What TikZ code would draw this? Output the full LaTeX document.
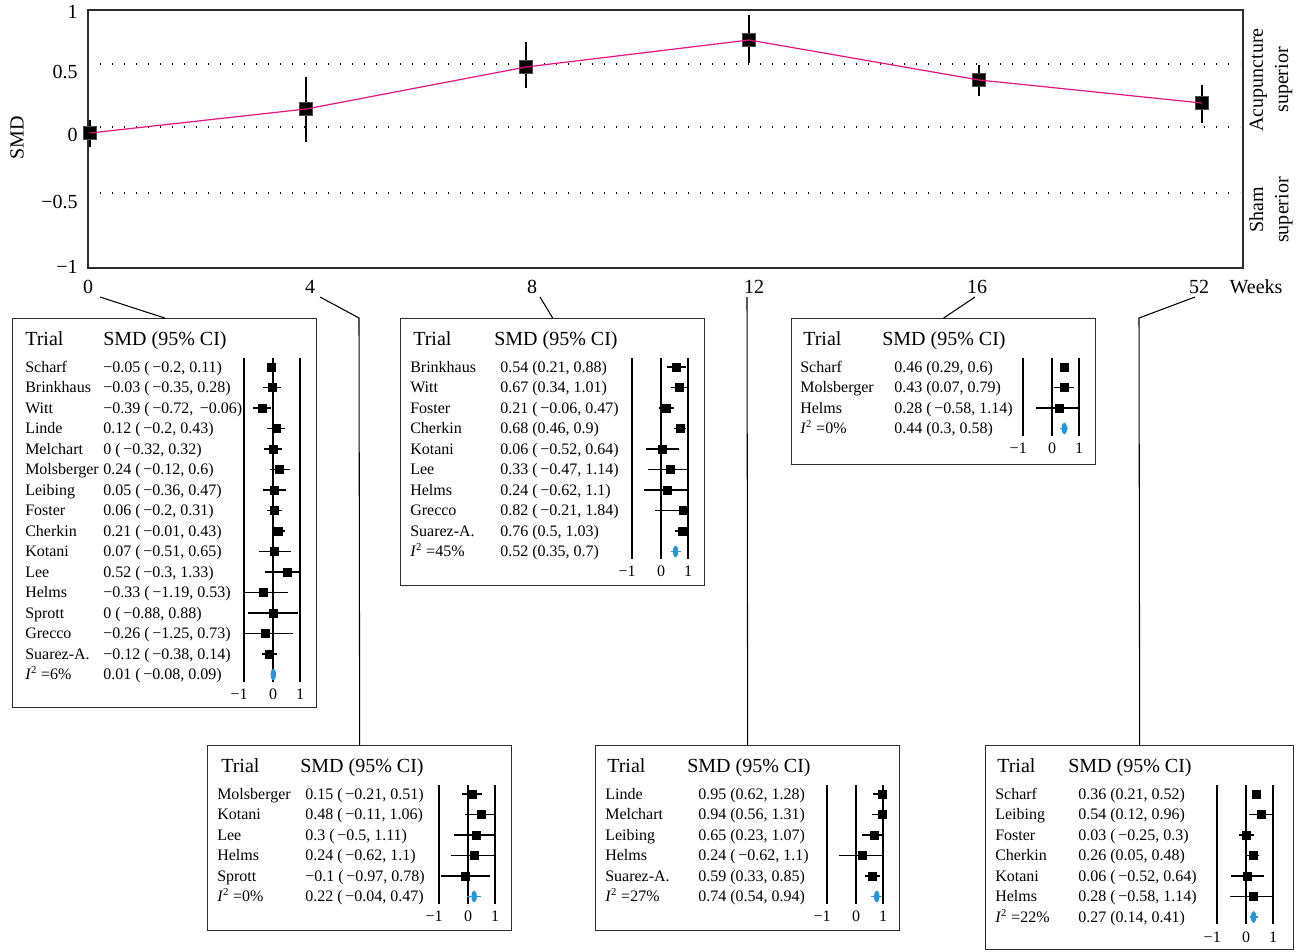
\documentclass[tikz,border=0pt]{standalone}
\usepackage{fontspec}
\setmainfont{Liberation Serif}
\definecolor{pinkline}{RGB}{230,20,130}
\definecolor{sumblue}{RGB}{35,150,220}
\definecolor{framecol}{RGB}{45,45,45}
\newcommand\frow[6]{%
  \pgfmathsetmacro\ry{49+20.5*#1}%
  \pgfmathsetmacro\xl{261+28*max(-1,#5)}%
  \pgfmathsetmacro\xh{261+28*min(1,#6)}%
  \pgfmathsetmacro\xe{261+28*(#4)}%
  \node[rowtxt] (\bid-n#1) at (\nx,\ry+5) {#2};
  \node[rowtxt] (\bid-v#1) at (\vx,\ry+5) {#3};
  \draw[ebar] (\xl,\ry) -- (\xh,\ry);
  \fill (\xe-4.5,\ry-4.5) rectangle (\xe+4.5,\ry+4.5);
}
\newcommand\fsum[6]{%
  \pgfmathsetmacro\ry{49+20.5*#1}%
  \pgfmathsetmacro\xl{261+28*max(-1,#5)}%
  \pgfmathsetmacro\xh{261+28*min(1,#6)}%
  \pgfmathsetmacro\xe{261+28*(#4)}%
  \node[rowtxt] (\bid-n#1) at (\nx,\ry+5) {\textit{I}\textsuperscript{2} =#2};
  \node[rowtxt] (\bid-v#1) at (\vx,\ry+5) {#3};
  \draw[sumbar] (\xl,\ry) -- (\xh,\ry);
  \fill[sumblue] (\xe,\ry) ellipse [x radius=2pt, y radius=4.5pt];
}
\newcommand\fhead[4]{% id-width-height-smdx
  \node[fboxnode, minimum width={#1*0.75pt}, minimum height={#2*0.75pt}] (\bid) at (0,0) {};
  \node[hdr] (\bid-trial) at (#4,27) {Trial};
  \node[hdr] (\bid-smd) at (#3,27) {SMD (95\% CI)};
}
\newcommand\faxis[1]{%
  \pgfmathsetmacro\ly{49+20.5*#1}%
  \foreach \xx in {232,261,288} {\draw[vline] (\xx,40) -- (\xx,\ly+7);}
  \node[axtxt, anchor=base east] (\bid-am) at (236,\ly+25) {−1};
  \node[axtxt, anchor=base] (\bid-az) at (261,\ly+25) {0};
  \node[axtxt, anchor=base] (\bid-ap) at (288,\ly+25) {1};
}
\begin{document}
\begin{tikzpicture}[x=0.75pt,y=-0.75pt,
  lbl/.style={font=\fontsize{15}{19}\selectfont, inner sep=0pt},
  hdr/.style={font=\fontsize{15}{18}\selectfont, inner sep=0pt, anchor=base west},
  rowtxt/.style={font=\fontsize{12}{14}\selectfont, inner sep=0pt, anchor=base west},
  axtxt/.style={font=\fontsize{12}{14}\selectfont, inner sep=0pt},
  fboxnode/.style={draw=framecol, line width=1pt, anchor=north west, inner sep=0pt, fill=none},
  vline/.style={line width=1pt, black},
  ebar/.style={line width=0.8pt, black},
  sumbar/.style={line width=1pt, sumblue},
  dotline/.style={line width=0.9pt, dash pattern=on 0.9pt off 8.1pt},
  marker/.style={fill=black, draw=black!70, line width=0.4pt, minimum size=9.75pt, inner sep=0pt},
  errv/.style={line width=1.1pt, black},
  conn/.style={line width=0.8pt, black}]
\useasboundingbox (0,0) rectangle (1301,951);
\fill[white] (0,0) rectangle (1301,951);
% ---------- top chart ----------
\foreach \yy in {64,127,193} {\draw[dotline] (100,\yy) -- (1240,\yy);}
\draw[framecol, line width=1.1pt] (88,10) rectangle (1243,268);
\node[lbl, anchor=east] (y1) at (78,12) {1};
\node[lbl, anchor=east] (y05) at (78,72) {0.5};
\node[lbl, anchor=east] (y0) at (78,135) {0};
\node[lbl, anchor=east] (ym05) at (78,202) {−0.5};
\node[lbl, anchor=east] (ym1) at (78,267) {−1};
\node[lbl, rotate=90] (ylab) at (17,138) {SMD};
\node[lbl, rotate=90, align=center] (acu) at (1271,80) {Acupuncture\\superior};
\node[lbl, rotate=90, align=center] (sham) at (1271,210) {Sham\\superior};
% error bars
\draw[errv] (90,120) -- (90,147);
\draw[errv] (306,77) -- (306,142);
\draw[errv] (526,42) -- (526,88);
\draw[errv] (749,15) -- (749,63);
\draw[errv] (979,65) -- (979,96);
\draw[errv] (1202,85) -- (1202,123);
% markers
\node[marker] (m0) at (90,133) {};
\node[marker] (m4) at (306,109) {};
\node[marker] (m8) at (526,67) {};
\node[marker] (m12) at (749,40) {};
\node[marker] (m16) at (979,80) {};
\node[marker] (m52) at (1202,103) {};
\draw[pinkline, line width=0.9pt] (m0.center) -- (m4.center) -- (m8.center) -- (m12.center) -- (m16.center) -- (m52.center);
% week labels
\node[lbl] (t0) at (88,287) {0};
\node[lbl] (t4) at (310,287) {4};
\node[lbl] (t8) at (532,287) {8};
\node[lbl] (t12) at (754,287) {12};
\node[lbl] (t16) at (977,287) {16};
\node[lbl] (t52) at (1199,287) {52};
\node[lbl] (weeks) at (1256,287) {Weeks};
% ---------- box week 0 ----------
\begin{scope}[shift={(12,318)}]
\def\bid{b0}\def\nx{13}\def\vx{91}
\fhead{304}{389}{91}{13}
\faxis{15}
\frow{0}{Scharf}{−0.05 (\,−0.2, 0.11)}{-0.05}{-0.2}{0.11}
\frow{1}{Brinkhaus}{−0.03 (\,−0.35, 0.28)}{-0.03}{-0.35}{0.28}
\frow{2}{Witt}{−0.39 (\,−0.72, \,−0.06)}{-0.39}{-0.72}{-0.06}
\frow{3}{Linde}{0.12 (\,−0.2, 0.43)}{0.12}{-0.2}{0.43}
\frow{4}{Melchart}{0 (\,−0.32, 0.32)}{0}{-0.32}{0.32}
\frow{5}{Molsberger}{0.24 (\,−0.12, 0.6)}{0.24}{-0.12}{0.6}
\frow{6}{Leibing}{0.05 (\,−0.36, 0.47)}{0.05}{-0.36}{0.47}
\frow{7}{Foster}{0.06 (\,−0.2, 0.31)}{0.06}{-0.2}{0.31}
\frow{8}{Cherkin}{0.21 (\,−0.01, 0.43)}{0.21}{-0.01}{0.43}
\frow{9}{Kotani}{0.07 (\,−0.51, 0.65)}{0.07}{-0.51}{0.65}
\frow{10}{Lee}{0.52 (\,−0.3, 1.33)}{0.52}{-0.3}{1.33}
\frow{11}{Helms}{−0.33 (\,−1.19, 0.53)}{-0.33}{-1.19}{0.53}
\frow{12}{Sprott}{0 (\,−0.88, 0.88)}{0}{-0.88}{0.88}
\frow{13}{Grecco}{−0.26 (\,−1.25, 0.73)}{-0.26}{-1.25}{0.73}
\frow{14}{Suarez-A.}{−0.12 (\,−0.38, 0.14)}{-0.12}{-0.38}{0.14}
\fsum{15}{6\%}{0.01 (\,−0.08, 0.09)}{0.01}{-0.08}{0.09}
\end{scope}
% ---------- box week 8 ----------
\begin{scope}[shift={(400,318)}]
\def\bid{b8}\def\nx{10}\def\vx{100}
\fhead{304}{267}{94}{13}
\faxis{9}
\frow{0}{Brinkhaus}{0.54 (0.21, 0.88)}{0.54}{0.21}{0.88}
\frow{1}{Witt}{0.67 (0.34, 1.01)}{0.67}{0.34}{1.01}
\frow{2}{Foster}{0.21 (\,−0.06, 0.47)}{0.21}{-0.06}{0.47}
\frow{3}{Cherkin}{0.68 (0.46, 0.9)}{0.68}{0.46}{0.9}
\frow{4}{Kotani}{0.06 (\,−0.52, 0.64)}{0.06}{-0.52}{0.64}
\frow{5}{Lee}{0.33 (\,−0.47, 1.14)}{0.33}{-0.47}{1.14}
\frow{6}{Helms}{0.24 (\,−0.62, 1.1)}{0.24}{-0.62}{1.1}
\frow{7}{Grecco}{0.82 (\,−0.21, 1.84)}{0.82}{-0.21}{1.84}
\frow{8}{Suarez-A.}{0.76 (0.5, 1.03)}{0.76}{0.5}{1.03}
\fsum{9}{45\%}{0.52 (0.35, 0.7)}{0.52}{0.35}{0.7}
\end{scope}
% ---------- box week 16 ----------
\begin{scope}[shift={(791,318)}]
\def\bid{b16}\def\nx{9}\def\vx{103}
\fhead{304}{146}{91}{12}
\faxis{3}
\frow{0}{Scharf}{0.46 (0.29, 0.6)}{0.46}{0.29}{0.6}
\frow{1}{Molsberger}{0.43 (0.07, 0.79)}{0.43}{0.07}{0.79}
\frow{2}{Helms}{0.28 (\,−0.58, 1.14)}{0.28}{-0.58}{1.14}
\fsum{3}{0\%}{0.44 (0.3, 0.58)}{0.44}{0.3}{0.58}
\end{scope}
% ---------- box week 4 ----------
\begin{scope}[shift={(207,745)}]
\def\bid{b4}\def\nx{10}\def\vx{98}
\fhead{304}{185}{93}{14}
\faxis{5}
\frow{0}{Molsberger}{0.15 (\,−0.21, 0.51)}{0.15}{-0.21}{0.51}
\frow{1}{Kotani}{0.48 (\,−0.11, 1.06)}{0.48}{-0.11}{1.06}
\frow{2}{Lee}{0.3 (\,−0.5, 1.11)}{0.3}{-0.5}{1.11}
\frow{3}{Helms}{0.24 (\,−0.62, 1.1)}{0.24}{-0.62}{1.1}
\frow{4}{Sprott}{−0.1 (\,−0.97, 0.78)}{-0.1}{-0.97}{0.78}
\fsum{5}{0\%}{0.22 (\,−0.04, 0.47)}{0.22}{-0.04}{0.47}
\end{scope}
% ---------- box week 12 ----------
\begin{scope}[shift={(595,745)}]
\def\bid{b12}\def\nx{10}\def\vx{103}
\fhead{304}{185}{92}{12}
\faxis{5}
\frow{0}{Linde}{0.95 (0.62, 1.28)}{0.95}{0.62}{1.28}
\frow{1}{Melchart}{0.94 (0.56, 1.31)}{0.94}{0.56}{1.31}
\frow{2}{Leibing}{0.65 (0.23, 1.07)}{0.65}{0.23}{1.07}
\frow{3}{Helms}{0.24 (\,−0.62, 1.1)}{0.24}{-0.62}{1.1}
\frow{4}{Suarez-A.}{0.59 (0.33, 0.85)}{0.59}{0.33}{0.85}
\fsum{5}{27\%}{0.74 (0.54, 0.94)}{0.74}{0.54}{0.94}
\end{scope}
% ---------- box week 52 ----------
\begin{scope}[shift={(985,745)}]
\def\bid{b52}\def\nx{10}\def\vx{93}
\fhead{308}{204}{83}{12}
\faxis{6}
\frow{0}{Scharf}{0.36 (0.21, 0.52)}{0.36}{0.21}{0.52}
\frow{1}{Leibing}{0.54 (0.12, 0.96)}{0.54}{0.12}{0.96}
\frow{2}{Foster}{0.03 (\,−0.25, 0.3)}{0.03}{-0.25}{0.3}
\frow{3}{Cherkin}{0.26 (0.05, 0.48)}{0.26}{0.05}{0.48}
\frow{4}{Kotani}{0.06 (\,−0.52, 0.64)}{0.06}{-0.52}{0.64}
\frow{5}{Helms}{0.28 (\,−0.58, 1.14)}{0.28}{-0.58}{1.14}
\fsum{6}{22\%}{0.27 (0.14, 0.41)}{0.27}{0.14}{0.41}
\end{scope}
% ---------- connectors ----------
\coordinate (c0) at (100,297);
\coordinate (c4) at (320,297);
\coordinate (e4) at (359,318);
\coordinate (c8) at (540,297);
\coordinate (c12) at (747,297);
\coordinate (c16) at (975,297);
\coordinate (c52) at (1195,297);
\coordinate (e52) at (1139,318);
\draw[conn] (c0) -- (b0.north);
\draw[conn] (c4) -- (e4) -- (b4.north);
\draw[conn] (c8) -- (b8.north);
\draw[conn] (c12) -- (b12.north);
\draw[conn] (c16) -- (b16.north);
\draw[conn] (c52) -- (e52) -- (b52.north);
\end{tikzpicture}
\end{document}
